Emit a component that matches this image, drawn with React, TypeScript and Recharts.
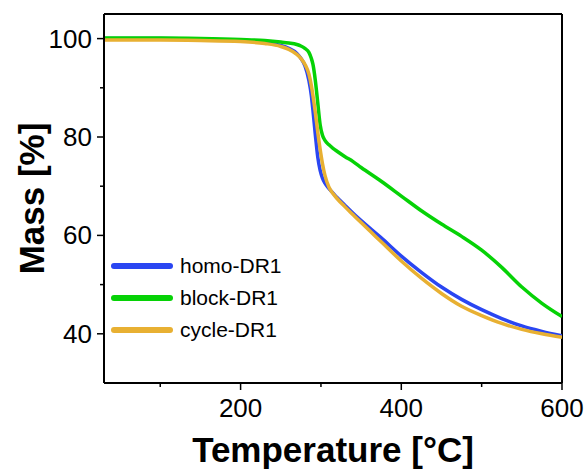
import { LineChart, Line, XAxis, YAxis, ReferenceLine, Label } from "recharts";

// temperature steps (°C) and remaining mass (%) for each sample
const temps = [30, 100, 150, 200, 230, 250, 260, 270, 275, 280, 285, 288, 290, 293, 296, 299, 302, 305, 310, 315, 320, 330, 340, 350, 375, 400, 425, 450, 475, 500, 525, 550, 575, 600];
const homo = [100.0, 100.0, 99.9, 99.6, 99.2, 98.6, 98.0, 97.0, 96.0, 94.5, 91.5, 88.5, 85.5, 80.5, 76.0, 73.2, 71.6, 70.6, 69.5, 68.6, 67.7, 66.1, 64.5, 63.0, 59.5, 55.8, 52.5, 49.5, 47.0, 44.9, 43.1, 41.6, 40.5, 39.6];
const block = [100.1, 100.1, 100.0, 99.8, 99.6, 99.3, 99.1, 98.8, 98.5, 98.0, 97.2, 96.0, 94.8, 91.5, 87.0, 82.5, 80.3, 79.3, 78.4, 77.7, 77.1, 76.0, 75.0, 73.8, 71.0, 68.0, 65.0, 62.3, 59.8, 57.0, 53.5, 49.5, 46.2, 43.5];
const cycle = [99.7, 99.7, 99.6, 99.4, 99.0, 98.4, 97.8, 96.8, 96.0, 94.8, 92.8, 90.5, 88.5, 85.0, 81.0, 77.5, 74.5, 72.2, 69.8, 68.5, 67.5, 65.8, 64.2, 62.6, 58.7, 54.8, 51.3, 48.2, 45.6, 43.7, 42.1, 40.9, 40.0, 39.3];

const xTicks = [100, 200, 300, 400, 500, 600];
const xLabelled = [200, 400, 600];
const yTicks = [40, 50, 60, 70, 80, 90, 100];
const yLabelled = [40, 60, 80, 100];

const series = [
  { key: "homo", name: "homo-DR1", color: "#2a46f2" },
  { key: "block", name: "block-DR1", color: "#06d206" },
  { key: "cycle", name: "cycle-DR1", color: "#e8b032" },
];

const data = temps.map((t, i) => ({ t, homo: homo[i], block: block[i], cycle: cycle[i] }));

const FONT = "'Liberation Sans', Arial, sans-serif";

const XTick = (props: any) => {
  const { x, y, payload } = props;
  const major = xLabelled.includes(payload.value);
  return (
    <g>
      <line x1={x} x2={x} y1={y} y2={y + (major ? 7 : 4)} stroke="#000" strokeWidth={1.5} />
      {major && (
        <text x={x} y={y + 34} textAnchor="middle" fontSize={26} fontFamily={FONT} fill="#000">
          {payload.value}
        </text>
      )}
    </g>
  );
};

const YTick = (props: any) => {
  const { x, y, payload } = props;
  const major = yLabelled.includes(payload.value);
  return (
    <g>
      <line x1={x} x2={x - (major ? 7 : 4)} y1={y} y2={y} stroke="#000" strokeWidth={1.5} />
      {major && (
        <text x={x - 12} y={y + 9} textAnchor="end" fontSize={26} fontFamily={FONT} fill="#000">
          {payload.value}
        </text>
      )}
    </g>
  );
};

// y title rotated, baseline toward the axis
const MassTitle = (props: any) => {
  const { viewBox } = props;
  const x = viewBox.x + 44;
  const y = viewBox.y + viewBox.height / 2;
  return (
    <text
      x={x}
      y={y}
      transform={`rotate(-90, ${x}, ${y})`}
      textAnchor="middle"
      fontSize={35}
      fontWeight="bold"
      fontFamily={FONT}
      fill="#000"
    >
      Mass [%]
    </text>
  );
};

const LegendBox = () => (
  <div style={{ position: "absolute", left: 108, top: 250, fontFamily: FONT, fontSize: 21, color: "#000" }}>
    {series.map((s) => (
      <div key={s.key} style={{ display: "flex", alignItems: "center", height: 32 }}>
        <svg width={72} height={10}>
          <line x1={6} x2={62} y1={5} y2={5} stroke={s.color} strokeWidth={6} strokeLinecap="round" />
        </svg>
        <span>{s.name}</span>
      </div>
    ))}
  </div>
);

export default function App() {
  return (
    <div style={{ position: "absolute", left: 0, top: 0, width: 587, height: 471, background: "#fff" }}>
      <LineChart width={587} height={471} data={data} margin={{ top: 14, right: 25, left: 0, bottom: 0 }}>
        <XAxis
          dataKey="t"
          type="number"
          domain={[30, 600]}
          ticks={xTicks}
          allowDataOverflow
          height={88}
          tickSize={0}
          tickMargin={0}
          tickLine={false}
          tick={<XTick />}
          axisLine={{ stroke: "#000", strokeWidth: 2 }}
        >
          <Label
            value="Temperature [°C]"
            position="insideBottom"
            offset={9}
            style={{ fontFamily: FONT, fontSize: 35, fontWeight: "bold", fill: "#000" }}
          />
        </XAxis>
        <YAxis
          type="number"
          domain={[30, 105]}
          ticks={yTicks}
          allowDataOverflow
          width={104}
          tickSize={0}
          tickMargin={0}
          tickLine={false}
          tick={<YTick />}
          axisLine={{ stroke: "#000", strokeWidth: 2 }}
        >
          <Label content={<MassTitle />} />
        </YAxis>
        <ReferenceLine y={105} stroke="#000" strokeWidth={2} />
        <ReferenceLine x={600} stroke="#000" strokeWidth={2} />
        {series.map((s) => (
          <Line
            key={s.key}
            dataKey={s.key}
            name={s.name}
            type="monotone"
            stroke={s.color}
            strokeWidth={3.5}
            dot={false}
            isAnimationActive={false}
          />
        ))}
      </LineChart>
      <LegendBox />
    </div>
  );
}
